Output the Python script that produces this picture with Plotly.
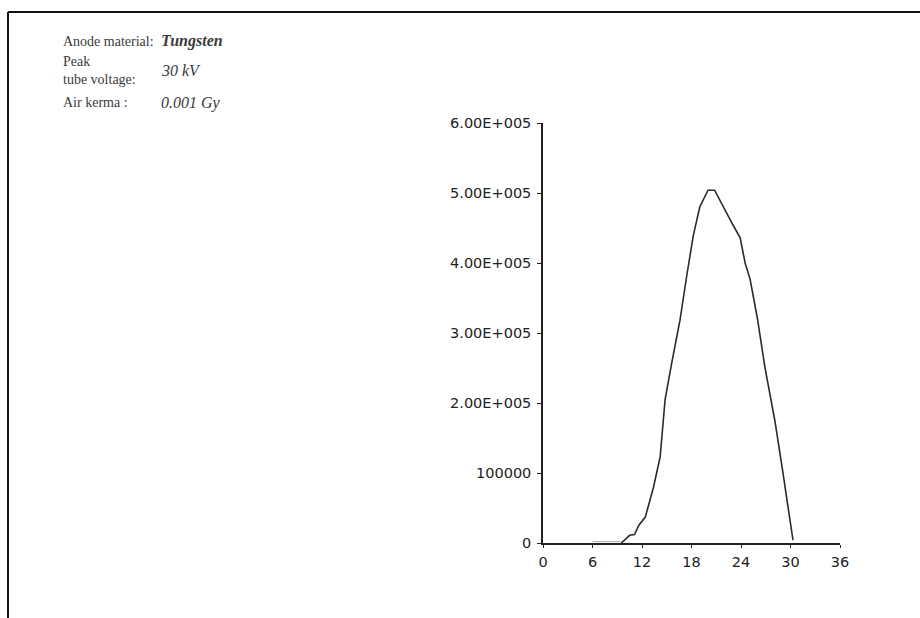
import plotly.graph_objects as go

# X-ray spectrum: photon energy (keV) vs. fluence
energy_kev = [9.5, 10.0, 10.5, 11.1, 11.6, 12.4, 13.4, 14.2, 14.8, 15.6, 16.6,
              17.4, 18.2, 19.0, 20.0, 20.8, 21.9, 23.0, 23.9, 24.5, 25.1,
              26.0, 26.9, 28.1, 29.1, 29.7, 30.3]
fluence = [0, 5000, 11000, 12000, 25000, 37000, 80000, 123000, 205000, 257000,
           318000, 380000, 438000, 480000, 504000, 504000, 479000, 455000,
           436000, 400000, 377000, 320000, 251000, 175000, 99000, 52000, 4000]

# low-energy tail below the main curve
tail_kev = [6, 7, 8, 9, 9.5]
tail_fluence = [2000, 2000, 2000, 2000, 2000]

x_ticks = [0, 6, 12, 18, 24, 30, 36]
y_ticks = [0, 100000, 200000, 300000, 400000, 500000, 600000]
y_tick_labels = ["0", "100000", "2.00E+005", "3.00E+005", "4.00E+005",
                 "5.00E+005", "6.00E+005"]

info_labels = ["Anode material:", "Peak<br>tube voltage:", "Air kerma :"]
info_values = ["<b>Tungsten</b>", "30 kV", "0.001 Gy"]

W, H = 920, 618
L, R, T, B = 543, 840, 123, 543  # plot area in pixels


def px(x):
    return (x - L) / (R - L)


def py(y):
    return (B - y) / (B - T)


fig = go.Figure()
fig.add_trace(go.Scatter(x=tail_kev, y=tail_fluence, mode="lines",
                         line=dict(color="#b8b8b8", width=1.2),
                         hoverinfo="skip", showlegend=False))
fig.add_trace(go.Scatter(x=energy_kev, y=fluence, mode="lines",
                         line=dict(color="#2a2a2a", width=1.6),
                         showlegend=False))

tick_font = dict(family="DejaVu Sans", size=14.5, color="#222")
fig.update_xaxes(range=[0, 36], tickvals=x_ticks, ticks="outside", ticklen=3,
                 tickcolor="#222", showline=True, linecolor="#222", linewidth=1.5,
                 showgrid=False, zeroline=False, tickfont=tick_font,
                 ticklabelstandoff=2)
fig.update_yaxes(range=[0, 600000], tickvals=y_ticks, ticktext=y_tick_labels,
                 ticks="outside", ticklen=4, tickcolor="#222", showline=True,
                 linecolor="#222", linewidth=1.5, showgrid=False, zeroline=False,
                 tickfont=tick_font, ticklabelstandoff=3)

# outer frame (top and left edges)
frame = dict(color="#111", width=2)
fig.add_shape(type="line", xref="paper", yref="paper",
              x0=px(8), y0=py(12), x1=px(W), y1=py(12), line=frame)
fig.add_shape(type="line", xref="paper", yref="paper",
              x0=px(8), y0=py(12), x1=px(8), y1=py(H), line=frame)

label_font = dict(family="Liberation Serif", size=14, color="#3a3a3a")
value_font = dict(family="Liberation Serif", size=16, color="#3a3a3a")
label_rows = [41, 70, 103]
for lab, val, yy in zip(info_labels, info_values, label_rows):
    fig.add_annotation(xref="paper", yref="paper", x=px(61), y=py(yy),
                       text=lab, showarrow=False, xanchor="left",
                       yanchor="middle", align="left", font=label_font)
    fig.add_annotation(xref="paper", yref="paper", x=px(159), y=py(yy),
                       text=f"<i>{val}</i>", showarrow=False, xanchor="left",
                       yanchor="middle", align="left", font=value_font)

fig.update_layout(width=W, height=H, margin=dict(l=L, r=W - R, t=T, b=H - B),
                  paper_bgcolor="white", plot_bgcolor="white")

fig.write_html("out.html")
